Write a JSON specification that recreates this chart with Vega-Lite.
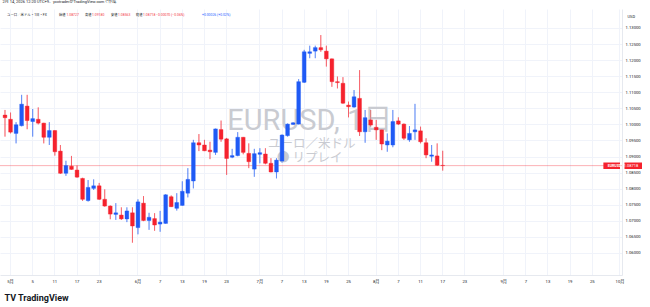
{
  "$schema": "https://vega.github.io/schema/vega-lite/v6.json",
  "width": 622,
  "height": 266,
  "autosize": {"type": "none"},
  "padding": {"left": 0, "top": 9, "right": 28, "bottom": 32},
  "background": "#ffffff",
  "config": {"view": {"stroke": null}, "font": "Roboto, 'Noto Sans CJK JP', sans-serif"},
  "title": {"text": "2月 14, 2026 12:20 UTC+9、ycctraderがTradingView.comで作成", "anchor": "start", "fontSize": 4, "fontWeight": "normal", "color": "#131722", "offset": 2.5, "baseline": "alphabetic", "dx": 3},
  "data": {"values": [
    {"d": "2023-04-28", "o": 1.1029, "h": 1.1045, "l": 1.0962, "c": 1.1021},
    {"d": "2023-05-01", "o": 1.1016, "h": 1.1037, "l": 1.0972, "c": 1.0976},
    {"d": "2023-05-02", "o": 1.0972, "h": 1.1007, "l": 1.0941, "c": 1.0999},
    {"d": "2023-05-03", "o": 1.0996, "h": 1.1092, "l": 1.0994, "c": 1.1063},
    {"d": "2023-05-04", "o": 1.1057, "h": 1.1092, "l": 1.0985, "c": 1.1012},
    {"d": "2023-05-05", "o": 1.1009, "h": 1.1048, "l": 1.0962, "c": 1.1018},
    {"d": "2023-05-08", "o": 1.1016, "h": 1.1053, "l": 1.1000, "c": 1.1004},
    {"d": "2023-05-09", "o": 1.1004, "h": 1.1005, "l": 1.0941, "c": 1.0960},
    {"d": "2023-05-10", "o": 1.0960, "h": 1.1007, "l": 1.0936, "c": 1.0981},
    {"d": "2023-05-11", "o": 1.0981, "h": 1.0982, "l": 1.0903, "c": 1.0915},
    {"d": "2023-05-12", "o": 1.0917, "h": 1.0936, "l": 1.0846, "c": 1.0848},
    {"d": "2023-05-15", "o": 1.0848, "h": 1.0887, "l": 1.0840, "c": 1.0872},
    {"d": "2023-05-16", "o": 1.0870, "h": 1.0902, "l": 1.0859, "c": 1.0860},
    {"d": "2023-05-17", "o": 1.0858, "h": 1.0872, "l": 1.0834, "c": 1.0836},
    {"d": "2023-05-18", "o": 1.0832, "h": 1.0834, "l": 1.0762, "c": 1.0767},
    {"d": "2023-05-19", "o": 1.0763, "h": 1.0827, "l": 1.0760, "c": 1.0804},
    {"d": "2023-05-22", "o": 1.0801, "h": 1.0829, "l": 1.0796, "c": 1.0809},
    {"d": "2023-05-23", "o": 1.0809, "h": 1.0818, "l": 1.0765, "c": 1.0767},
    {"d": "2023-05-24", "o": 1.0767, "h": 1.0798, "l": 1.0744, "c": 1.0746},
    {"d": "2023-05-25", "o": 1.0746, "h": 1.0748, "l": 1.0705, "c": 1.0721},
    {"d": "2023-05-26", "o": 1.0720, "h": 1.0755, "l": 1.0703, "c": 1.0725},
    {"d": "2023-05-29", "o": 1.0718, "h": 1.0742, "l": 1.0703, "c": 1.0706},
    {"d": "2023-05-30", "o": 1.0706, "h": 1.0742, "l": 1.0696, "c": 1.0731},
    {"d": "2023-05-31", "o": 1.0725, "h": 1.0742, "l": 1.0632, "c": 1.0684},
    {"d": "2023-06-01", "o": 1.0679, "h": 1.0767, "l": 1.0658, "c": 1.0759},
    {"d": "2023-06-02", "o": 1.0755, "h": 1.0777, "l": 1.0699, "c": 1.0701},
    {"d": "2023-06-05", "o": 1.0701, "h": 1.0725, "l": 1.0672, "c": 1.0711},
    {"d": "2023-06-06", "o": 1.0707, "h": 1.0724, "l": 1.0669, "c": 1.0687},
    {"d": "2023-06-07", "o": 1.0690, "h": 1.0731, "l": 1.0666, "c": 1.0696},
    {"d": "2023-06-08", "o": 1.0692, "h": 1.0783, "l": 1.0691, "c": 1.0781},
    {"d": "2023-06-09", "o": 1.0775, "h": 1.0779, "l": 1.0743, "c": 1.0744},
    {"d": "2023-06-12", "o": 1.0739, "h": 1.0786, "l": 1.0732, "c": 1.0757},
    {"d": "2023-06-13", "o": 1.0748, "h": 1.0823, "l": 1.0747, "c": 1.0792},
    {"d": "2023-06-14", "o": 1.0786, "h": 1.0864, "l": 1.0773, "c": 1.0829},
    {"d": "2023-06-15", "o": 1.0824, "h": 1.0952, "l": 1.0801, "c": 1.0943},
    {"d": "2023-06-16", "o": 1.0943, "h": 1.0970, "l": 1.0917, "c": 1.0936},
    {"d": "2023-06-19", "o": 1.0936, "h": 1.0952, "l": 1.0917, "c": 1.0918},
    {"d": "2023-06-20", "o": 1.0920, "h": 1.0946, "l": 1.0892, "c": 1.0915},
    {"d": "2023-06-21", "o": 1.0913, "h": 1.0987, "l": 1.0905, "c": 1.0986},
    {"d": "2023-06-22", "o": 1.0984, "h": 1.1012, "l": 1.0946, "c": 1.0954},
    {"d": "2023-06-23", "o": 1.0955, "h": 1.0958, "l": 1.0843, "c": 1.0894},
    {"d": "2023-06-26", "o": 1.0898, "h": 1.0924, "l": 1.0895, "c": 1.0903},
    {"d": "2023-06-27", "o": 1.0903, "h": 1.0976, "l": 1.0901, "c": 1.0960},
    {"d": "2023-06-28", "o": 1.0960, "h": 1.0961, "l": 1.0907, "c": 1.0913},
    {"d": "2023-06-29", "o": 1.0910, "h": 1.0941, "l": 1.0864, "c": 1.0884},
    {"d": "2023-06-30", "o": 1.0861, "h": 1.0924, "l": 1.0837, "c": 1.0909},
    {"d": "2023-07-03", "o": 1.0907, "h": 1.0926, "l": 1.0879, "c": 1.0912},
    {"d": "2023-07-04", "o": 1.0908, "h": 1.0926, "l": 1.0876, "c": 1.0879},
    {"d": "2023-07-05", "o": 1.0879, "h": 1.0895, "l": 1.0851, "c": 1.0852},
    {"d": "2023-07-06", "o": 1.0852, "h": 1.0895, "l": 1.0832, "c": 1.0889},
    {"d": "2023-07-07", "o": 1.0886, "h": 1.0969, "l": 1.0881, "c": 1.0967},
    {"d": "2023-07-10", "o": 1.0965, "h": 1.1003, "l": 1.0962, "c": 1.1001},
    {"d": "2023-07-11", "o": 1.1000, "h": 1.1007, "l": 1.0998, "c": 1.1005},
    {"d": "2023-07-12", "o": 1.1001, "h": 1.1141, "l": 1.1000, "c": 1.1133},
    {"d": "2023-07-13", "o": 1.1131, "h": 1.1232, "l": 1.1129, "c": 1.1226},
    {"d": "2023-07-14", "o": 1.1221, "h": 1.1245, "l": 1.1206, "c": 1.1226},
    {"d": "2023-07-17", "o": 1.1228, "h": 1.1245, "l": 1.1206, "c": 1.1239},
    {"d": "2023-07-18", "o": 1.1239, "h": 1.1278, "l": 1.1226, "c": 1.1232},
    {"d": "2023-07-19", "o": 1.1228, "h": 1.1245, "l": 1.1180, "c": 1.1204},
    {"d": "2023-07-20", "o": 1.1204, "h": 1.1205, "l": 1.1117, "c": 1.1133},
    {"d": "2023-07-21", "o": 1.1133, "h": 1.1149, "l": 1.1112, "c": 1.1130},
    {"d": "2023-07-24", "o": 1.1128, "h": 1.1147, "l": 1.1064, "c": 1.1066},
    {"d": "2023-07-25", "o": 1.1060, "h": 1.1071, "l": 1.1022, "c": 1.1055},
    {"d": "2023-07-26", "o": 1.1054, "h": 1.1107, "l": 1.1052, "c": 1.1086},
    {"d": "2023-07-27", "o": 1.1081, "h": 1.1169, "l": 1.0964, "c": 1.0977},
    {"d": "2023-07-28", "o": 1.0977, "h": 1.1045, "l": 1.0943, "c": 1.1021},
    {"d": "2023-07-31", "o": 1.1014, "h": 1.1045, "l": 1.0993, "c": 1.0998},
    {"d": "2023-08-01", "o": 1.0991, "h": 1.1014, "l": 1.0952, "c": 1.0983},
    {"d": "2023-08-02", "o": 1.0983, "h": 1.0984, "l": 1.0920, "c": 1.0939},
    {"d": "2023-08-03", "o": 1.0936, "h": 1.0972, "l": 1.0915, "c": 1.0948},
    {"d": "2023-08-04", "o": 1.0936, "h": 1.1045, "l": 1.0929, "c": 1.1009},
    {"d": "2023-08-07", "o": 1.1011, "h": 1.1022, "l": 1.0998, "c": 1.1001},
    {"d": "2023-08-08", "o": 1.1001, "h": 1.1003, "l": 1.0952, "c": 1.0957},
    {"d": "2023-08-09", "o": 1.0952, "h": 1.0995, "l": 1.0946, "c": 1.0972},
    {"d": "2023-08-10", "o": 1.0977, "h": 1.1064, "l": 1.0952, "c": 1.0983},
    {"d": "2023-08-11", "o": 1.0980, "h": 1.0993, "l": 1.0941, "c": 1.0946},
    {"d": "2023-08-14", "o": 1.0943, "h": 1.0957, "l": 1.0895, "c": 1.0905},
    {"d": "2023-08-15", "o": 1.0901, "h": 1.0936, "l": 1.0884, "c": 1.0905},
    {"d": "2023-08-16", "o": 1.0902, "h": 1.0941, "l": 1.0871, "c": 1.0873},
    {"d": "2023-08-17", "o": 1.08727, "h": 1.09180, "l": 1.08563, "c": 1.08718}
  ]},
  "encoding": {
    "y": {
      "type": "quantitative",
      "scale": {"domain": [1.05315, 1.13591], "nice": false, "zero": false},
      "axis": {
        "orient": "right",
        "values": [1.06, 1.065, 1.07, 1.075, 1.08, 1.085, 1.09, 1.095, 1.10, 1.105, 1.11, 1.115, 1.12, 1.125, 1.13],
        "format": ".5f", "labelFontSize": 4.2, "labelColor": "#131722", "labelPadding": 3, "labelAlign": "left",
        "ticks": false, "domain": true, "domainColor": "#e0e3eb", "domainWidth": 0.8,
        "grid": true, "gridColor": "#f0f3fa", "gridWidth": 1,
        "title": "USD", "titleAngle": 0, "titleFontSize": 4, "titleFontWeight": "normal", "titleColor": "#131722",
        "titleX": 5, "titleY": 7, "titleAlign": "left", "titleBaseline": "middle"
      }
    }
  },
  "layer": [
    {"mark": {"type": "rule", "strokeWidth": 1, "opacity": 0.45},
     "encoding": {
       "x": {
         "field": "d", "type": "ordinal",
         "scale": {
           "domain": ["2023-04-28",
             "2023-05-01","2023-05-02","2023-05-03","2023-05-04","2023-05-05","2023-05-08","2023-05-09","2023-05-10","2023-05-11","2023-05-12","2023-05-15","2023-05-16","2023-05-17","2023-05-18","2023-05-19","2023-05-22","2023-05-23","2023-05-24","2023-05-25","2023-05-26","2023-05-29","2023-05-30","2023-05-31",
             "2023-06-01","2023-06-02","2023-06-05","2023-06-06","2023-06-07","2023-06-08","2023-06-09","2023-06-12","2023-06-13","2023-06-14","2023-06-15","2023-06-16","2023-06-19","2023-06-20","2023-06-21","2023-06-22","2023-06-23","2023-06-26","2023-06-27","2023-06-28","2023-06-29","2023-06-30",
             "2023-07-03","2023-07-04","2023-07-05","2023-07-06","2023-07-07","2023-07-10","2023-07-11","2023-07-12","2023-07-13","2023-07-14","2023-07-17","2023-07-18","2023-07-19","2023-07-20","2023-07-21","2023-07-24","2023-07-25","2023-07-26","2023-07-27","2023-07-28","2023-07-31",
             "2023-08-01","2023-08-02","2023-08-03","2023-08-04","2023-08-07","2023-08-08","2023-08-09","2023-08-10","2023-08-11","2023-08-14","2023-08-15","2023-08-16","2023-08-17","2023-08-18","2023-08-21","2023-08-22","2023-08-23","2023-08-24","2023-08-25","2023-08-28","2023-08-29","2023-08-30","2023-08-31",
             "2023-09-01","2023-09-04","2023-09-05","2023-09-06","2023-09-07","2023-09-08","2023-09-11","2023-09-12","2023-09-13","2023-09-14","2023-09-15","2023-09-18","2023-09-19","2023-09-20","2023-09-21","2023-09-22","2023-09-25","2023-09-26","2023-09-27","2023-09-28","2023-09-29",
             "2023-10-02"],
           "paddingInner": 0.32, "paddingOuter": 0.292, "align": 0.962, "round": false
         },
         "axis": {
           "values": ["2023-05-01","2023-05-05","2023-05-11","2023-05-17","2023-05-23","2023-06-01","2023-06-07","2023-06-13","2023-06-19","2023-06-23","2023-07-03","2023-07-07","2023-07-13","2023-07-19","2023-07-25","2023-08-01","2023-08-07","2023-08-11","2023-08-17","2023-08-23","2023-09-01","2023-09-07","2023-09-13","2023-09-19","2023-09-25","2023-10-02"],
           "labelExpr": "indexof(['2023-05-01','2023-06-01','2023-07-03','2023-08-01','2023-09-01','2023-10-02'], datum.value) >= 0 ? toNumber(slice(datum.value, 5, 7)) + '月' : '' + toNumber(slice(datum.value, 8, 10))",
           "labelAngle": 0, "labelFontSize": 4.2, "labelColor": "#131722", "labelPadding": 4, "labelOverlap": false,
           "ticks": false, "domain": true, "domainColor": "#e0e3eb", "domainWidth": 0.8,
           "grid": true, "gridColor": "#f0f3fa", "gridWidth": 1, "bandPosition": 0.5,
           "title": "TV TradingView", "titleFontSize": 9, "titleFontWeight": "bold", "titleColor": "#131722",
           "titleAnchor": "start", "titleAlign": "left", "titleBaseline": "middle", "titleX": 4, "titleY": 22
         }
       },
       "y": {"field": "l", "type": "quantitative"},
       "y2": {"field": "h"},
       "color": {"condition": {"test": "datum.c < datum.o", "value": "#f5222d"}, "value": "#1f5af5"}
     }},
    {"data": {"values": [{}]}, "mark": {"type": "text", "text": "EURUSD, 1日", "fontSize": 29, "color": "#c9cbd1", "align": "center", "baseline": "middle"},
     "encoding": {"x": {"datum": "2023-07-14", "type": "ordinal"}, "y": {"datum": 1.10107}}},
    {"data": {"values": [{}]}, "mark": {"type": "text", "text": "ユーロ／米ドル", "fontSize": 12.5, "color": "#c9cbd1", "align": "center", "baseline": "middle", "dx": 2},
     "encoding": {"x": {"datum": "2023-07-14", "type": "ordinal"}, "y": {"datum": 1.09391}}},
    {"data": {"values": [{}]}, "mark": {"type": "text", "text": "● リプレイ", "fontSize": 12.5, "color": "#c9cbd1", "align": "center", "baseline": "middle"},
     "encoding": {"x": {"datum": "2023-07-14", "type": "ordinal"}, "y": {"datum": 1.0894}}},
    {"data": {"values": [{}]}, "mark": {"type": "rule", "color": "#f5222d", "strokeWidth": 1, "opacity": 0.35},
     "encoding": {"y": {"datum": 1.08718}, "color": {"value": "#f5222d"}}},
    {"mark": {"type": "rule", "strokeWidth": 1, "opacity": 0.45},
     "encoding": {
       "x": {"field": "d", "type": "ordinal"},
       "y": {"field": "l", "type": "quantitative"},
       "y2": {"field": "h"},
       "color": {"condition": {"test": "datum.c < datum.o", "value": "#f5222d"}, "value": "#1f5af5"}
     }},
    {"mark": {"type": "bar", "strokeWidth": 0.4},
     "encoding": {
       "x": {"field": "d", "type": "ordinal"},
       "y": {"field": "o", "type": "quantitative"},
       "y2": {"field": "c"},
       "color": {"condition": {"test": "datum.c < datum.o", "value": "#f5222d"}, "value": "#1f5af5"},
       "stroke": {"condition": {"test": "datum.c < datum.o", "value": "#f5222d"}, "value": "#1f5af5"}
     }},
    {"data": {"values": [{}]}, "mark": {"type": "rect", "color": "#f5222d"},
     "encoding": {"x": {"datum": "2023-09-27", "type": "ordinal"}, "x2": {"datum": "2023-10-02"}, "y": {"datum": 1.08815}, "y2": {"datum": 1.08613}}},
    {"data": {"values": [{}]}, "mark": {"type": "rect", "color": "#f5222d", "xOffset": 4.5, "x2Offset": 22},
     "encoding": {"x": {"datum": "2023-10-02", "type": "ordinal"}, "x2": {"datum": "2023-10-02"}, "y": {"datum": 1.08815}, "y2": {"datum": 1.08613}}},
    {"data": {"values": [{}]}, "mark": {"type": "text", "text": "EURUSD", "fontSize": 3.6, "fontWeight": "bold", "color": "#ffffff", "align": "center", "baseline": "middle"},
     "encoding": {"x": {"datum": "2023-09-29", "type": "ordinal"}, "y": {"datum": 1.08714}}},
    {"data": {"values": [{}]}, "mark": {"type": "text", "text": "1.08718", "fontSize": 4, "color": "#ffffff", "align": "center", "baseline": "middle", "dx": 11},
     "encoding": {"x": {"datum": "2023-10-02", "type": "ordinal"}, "y": {"datum": 1.08714}}},
    {"data": {"values": [{}]}, "mark": {"type": "text", "text": "ユーロ／米ドル・1日・FX", "fontSize": 3.4, "color": "#131722", "align": "left", "baseline": "middle", "dx": 3.9},
     "encoding": {"x": {"datum": "2023-04-28", "type": "ordinal", "bandPosition": 0}, "y": {"datum": 1.13404}}},
    {"data": {"values": [{}]}, "mark": {"type": "text", "text": "始値", "fontSize": 3.2, "color": "#131722", "align": "left", "baseline": "middle", "dx": 0.5},
     "encoding": {"x": {"datum": "2023-05-12", "type": "ordinal", "bandPosition": 0}, "y": {"datum": 1.13404}}},
    {"data": {"values": [{}]}, "mark": {"type": "text", "text": "1.08727", "fontSize": 3.4, "color": "#f23645", "align": "left", "baseline": "middle", "dx": 2.4},
     "encoding": {"x": {"datum": "2023-05-15", "type": "ordinal", "bandPosition": 0}, "y": {"datum": 1.13404}}},
    {"data": {"values": [{}]}, "mark": {"type": "text", "text": "高値", "fontSize": 3.2, "color": "#131722", "align": "left", "baseline": "middle", "dx": 4.3},
     "encoding": {"x": {"datum": "2023-05-18", "type": "ordinal", "bandPosition": 0}, "y": {"datum": 1.13404}}},
    {"data": {"values": [{}]}, "mark": {"type": "text", "text": "1.09180", "fontSize": 3.4, "color": "#f23645", "align": "left", "baseline": "middle", "dx": 0.2},
     "encoding": {"x": {"datum": "2023-05-22", "type": "ordinal", "bandPosition": 0}, "y": {"datum": 1.13404}}},
    {"data": {"values": [{}]}, "mark": {"type": "text", "text": "安値", "fontSize": 3.2, "color": "#131722", "align": "left", "baseline": "middle", "dx": 2.6},
     "encoding": {"x": {"datum": "2023-05-25", "type": "ordinal", "bandPosition": 0}, "y": {"datum": 1.13404}}},
    {"data": {"values": [{}]}, "mark": {"type": "text", "text": "1.08563", "fontSize": 3.4, "color": "#f23645", "align": "left", "baseline": "middle", "dx": 4.1},
     "encoding": {"x": {"datum": "2023-05-26", "type": "ordinal", "bandPosition": 0}, "y": {"datum": 1.13404}}},
    {"data": {"values": [{}]}, "mark": {"type": "text", "text": "終値", "fontSize": 3.2, "color": "#131722", "align": "left", "baseline": "middle", "dx": -0.1},
     "encoding": {"x": {"datum": "2023-06-01", "type": "ordinal", "bandPosition": 0}, "y": {"datum": 1.13404}}},
    {"data": {"values": [{}]}, "mark": {"type": "text", "text": "1.08718", "fontSize": 3.4, "color": "#f23645", "align": "left", "baseline": "middle", "dx": 1.4},
     "encoding": {"x": {"datum": "2023-06-02", "type": "ordinal", "bandPosition": 0}, "y": {"datum": 1.13404}}},
    {"data": {"values": [{}]}, "mark": {"type": "text", "text": "−0.00070 (−0.06%)", "fontSize": 3.4, "color": "#f23645", "align": "left", "baseline": "middle", "dx": 3.3},
     "encoding": {"x": {"datum": "2023-06-06", "type": "ordinal", "bandPosition": 0}, "y": {"datum": 1.13404}}},
    {"data": {"values": [{}]}, "mark": {"type": "text", "text": "+0.00026 (+0.02%)", "fontSize": 3.4, "color": "#2962ff", "align": "left", "baseline": "middle", "dx": -0.6},
     "encoding": {"x": {"datum": "2023-06-19", "type": "ordinal", "bandPosition": 0}, "y": {"datum": 1.13404}}}
  ]
}
